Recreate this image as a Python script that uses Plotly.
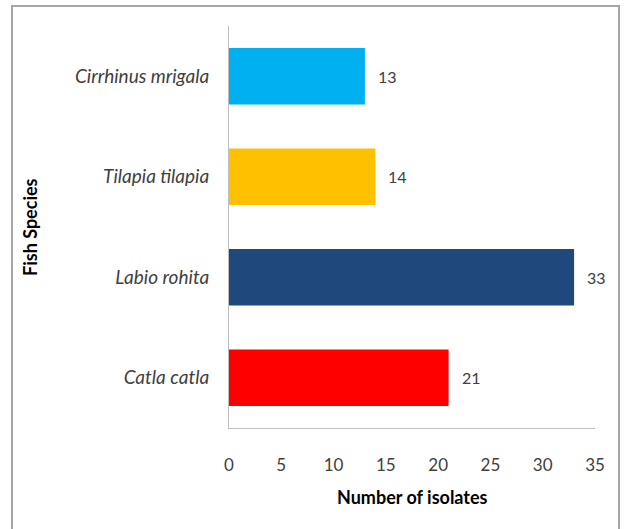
import plotly.graph_objects as go

species = ["Catla catla", "Labio rohita", "Tilapia tilapia", "Cirrhinus mrigala"]
isolates = [21, 33, 14, 13]
colors = ["#FF0000", "#1F497D", "#FFC000", "#00B0F0"]
x_ticks = [0, 5, 10, 15, 20, 25, 30, 35]

FONT = "Lato, Open Sans, sans-serif"
PW, PH = 366, 402  # plot area size in px

fig = go.Figure()
fig.add_trace(go.Bar(
    y=species, x=isolates, orientation="h",
    marker=dict(color=colors, line=dict(width=0)),
    width=0.56, hoverinfo="skip",
))
for s, v in zip(species, isolates):
    fig.add_annotation(x=v, y=s, text=str(v), showarrow=False,
                       xanchor="left", xshift=11,
                       font=dict(family=FONT, size=16, color="#404040"))

# axis titles as annotations for exact placement
fig.add_annotation(xref="paper", yref="paper", x=0.5, y=0, yshift=-69,
                   text="<b>Number of isolates</b>", showarrow=False,
                   xanchor="center", yanchor="middle",
                   font=dict(family=FONT, size=18, color="#000000"))
fig.add_annotation(xref="paper", yref="paper", x=0, y=0.5, xshift=-199,
                   text="<b>Fish Species</b>", showarrow=False, textangle=-90,
                   xanchor="center", yanchor="middle",
                   font=dict(family=FONT, size=18, color="#000000"))

fig.update_layout(
    width=625, height=529,
    margin=dict(l=229, r=30, t=26, b=101),
    paper_bgcolor="white", plot_bgcolor="white",
    showlegend=False,
    font=dict(family=FONT, size=16, color="#404040"),
    xaxis=dict(range=[0, 35], tickvals=x_ticks, showgrid=False, zeroline=False,
               showline=True, linecolor="#BFBFBF", linewidth=1,
               ticks="", ticklabelstandoff=22, automargin=False,
               tickfont=dict(family=FONT, size=17, color="#404040")),
    yaxis=dict(range=[-0.5, 3.5], showgrid=False, zeroline=False,
               showline=True, linecolor="#BFBFBF", linewidth=1,
               ticks="", ticklabelstandoff=15, automargin=False,
               tickfont=dict(family=FONT, size=19, color="#404040", style="italic")),
    shapes=[dict(type="rect", xref="paper", yref="paper",
                 x0=(12 - 229) / PW, x1=(619 - 229) / PW,
                 y0=-(101 + 10) / PH, y1=1 + 20 / PH,
                 line=dict(color="#A6A6A6", width=2), fillcolor="rgba(0,0,0,0)", layer="below")],
)
fig.write_html("out.html", config={"displayModeBar": False},
               post_script="document.body.style.margin='0';")
